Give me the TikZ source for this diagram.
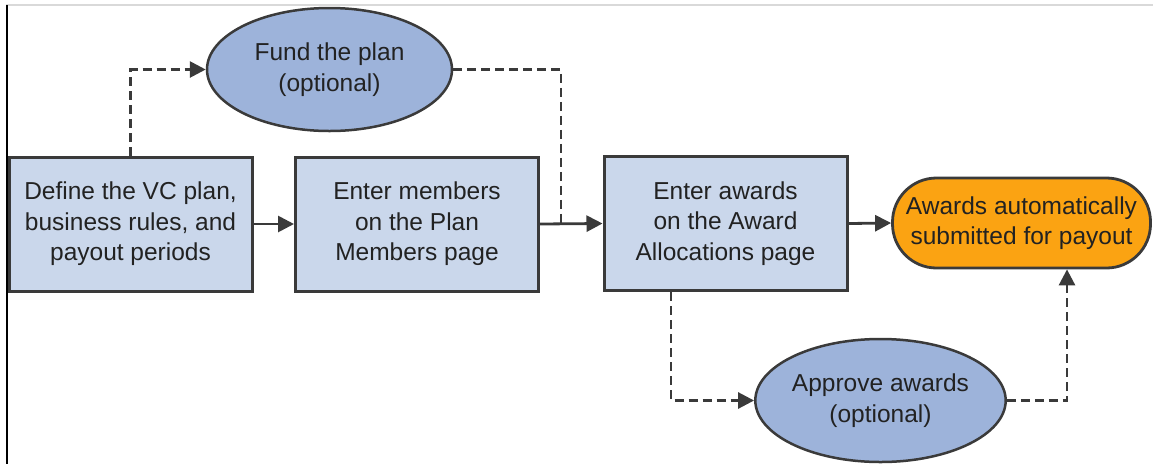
\documentclass[tikz,border=0pt]{standalone}
\usepackage{fontspec}
\setmainfont{Liberation Sans}
\usetikzlibrary{shapes.geometric,arrows.meta,calc}
\definecolor{boxfill}{HTML}{CAD7EB}
\definecolor{ellfill}{HTML}{9DB3DA}
\definecolor{orangefill}{HTML}{FBA312}
\definecolor{linegray}{HTML}{3A3A3A}
\definecolor{txt}{HTML}{222222}
\definecolor{framegray}{HTML}{D9D9D9}
\begin{document}
\begin{tikzpicture}[x=1pt,y=-1pt,
  every node/.style={font=\fontsize{24.5}{30.5}\selectfont, text=txt, align=center, inner sep=0pt},
  stepbox/.style={draw=linegray, line width=3pt, fill=boxfill, minimum width=243pt, minimum height=134pt},
  optell/.style={ellipse, draw=linegray, line width=2.5pt, fill=ellfill, minimum width=245pt, minimum height=123pt},
  endbox/.style={draw=linegray, line width=2.8pt, fill=orangefill, rounded corners=44pt, minimum width=258pt, minimum height=90pt},
  flow/.style={draw=linegray, line width=2.8pt, -{Triangle[length=16pt,width=16pt]}},
  optflow/.style={flow, dash pattern=on 9pt off 5pt},
  optline/.style={draw=linegray, line width=2.8pt, dash pattern=on 9pt off 5pt}]
\useasboundingbox (0,0) rectangle (1153,464);
\fill[white] (0,0) rectangle (1153,464);
\draw[framegray, line width=1.5pt] (6,5) -- (1153,5);
\draw[black, line width=2pt] (6.5,5) -- (6.5,464);

\node[stepbox] (b1) at (130.5,224) {Define the VC plan,\\business rules, and\\payout periods};
\node[stepbox] (b2) at (417,224) {Enter members\\on the Plan\\Members page};
\node[stepbox] (b3) at (725.5,223.5) {Enter awards\\on the Award\\Allocations page};
\node[optell] (fund) at (329.5,69.5) {Fund the plan\\(optional)};
\node[optell] (appr) at (880.5,400.5) {Approve awards\\(optional)};
\node[endbox] (pay) at (1021.5,223) {Awards automatically\\submitted for payout};
\coordinate (j) at (561,223);

\draw[flow] (b1.east) -- (b2.west);
\draw[flow] (b2.east) -- (b3.west);
\draw[flow] (b3.east) -- (pay.west);
\draw[optflow] (b1.north) |- (fund.west);
\draw[optline] (fund.east) -| (j);
\draw[optflow] ([xshift=-54.5pt]b3.south) |- (appr.west);
\draw[optflow] (appr.east) -| ([xshift=45.5pt]pay.south);
\end{tikzpicture}
\end{document}
